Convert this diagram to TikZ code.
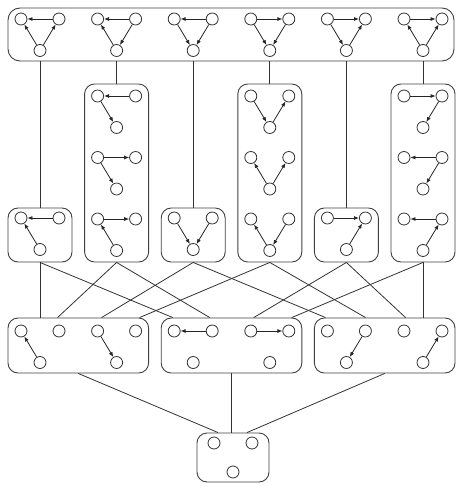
\documentclass[tikz,border=0pt]{standalone}
\usetikzlibrary{arrows.meta}
\begin{document}
\begin{tikzpicture}[x=1pt,y=-1pt]
\tikzset{
  vtx/.style={circle, draw=black!80, fill=white, minimum size=12pt, inner sep=0pt, line width=0.8pt},
  arc/.style={draw=black!85, line width=0.8pt, -{Latex[length=5pt,width=4pt]}},
  grp/.style={draw=black!75, rounded corners=10pt, line width=0.9pt, inner sep=0pt},
  link/.style={draw=black!80, line width=0.8pt},
}
% three vertices: left, right (top row) and bottom
\newcommand{\trio}[3]{%
  \node[vtx] (#1l) at (#2-19,#3) {};
  \node[vtx] (#1r) at (#2+19,#3) {};
  \node[vtx] (#1b) at (#2,#3+31.5) {};}
\useasboundingbox (0,0) rectangle (456,484);

% group boxes
\node[grp, rounded corners=12pt, minimum width=446pt, minimum height=53pt] (T) at (231,34.5) {};
\node[grp, minimum width=64pt, minimum height=54pt] (S1) at (40,235) {};
\node[grp, minimum width=64pt, minimum height=54pt] (S3) at (193.2,235) {};
\node[grp, minimum width=64pt, minimum height=54pt] (S5) at (346.4,235) {};
\node[grp, minimum width=64pt, minimum height=178pt] (L2) at (116.6,173) {};
\node[grp, minimum width=64pt, minimum height=178pt] (L4) at (269.8,173) {};
\node[grp, minimum width=64pt, minimum height=178pt] (L6) at (423,173) {};
\node[grp, minimum width=140.6pt, minimum height=55pt] (A) at (78.3,345.5) {};
\node[grp, minimum width=140.6pt, minimum height=55pt] (B) at (231.5,345.5) {};
\node[grp, minimum width=140.6pt, minimum height=55pt] (C) at (384.7,345.5) {};
\node[grp, minimum width=72pt, minimum height=49pt] (D) at (233,457.5) {};

% links between groups
\foreach \g in {S1,L2,S3,L4,S5,L6}
  \draw[link] (T.south -| \g.north) -- (\g.north);
\draw[link] (S1.south) -- (S1.south |- A.north);
\draw[link] (S1.south) -- ([xshift=12pt]B.north west);
\draw[link] (L2.south) -- ([xshift=50pt]A.north west);
\draw[link] (L2.south) -- ([xshift=49pt]B.north west);
\draw[link] (S3.south) -- ([xshift=94pt]A.north west);
\draw[link] (S3.south) -- ([xshift=11.6pt]C.north west);
\draw[link] (L4.south) -- ([xshift=132pt]A.north west);
\draw[link] (L4.south) -- ([xshift=51.6pt]C.north west);
\draw[link] (S5.south) -- ([xshift=93pt]B.north west);
\draw[link] (S5.south) -- ([xshift=91.6pt]C.north west);
\draw[link] (L6.south) -- ([xshift=131pt]B.north west);
\draw[link] (L6.south) -- (L6.south |- C.north);
\draw[link] (A.south) -- ([xshift=-15pt]D.north);
\draw[link] (B.south) -- (B.south |- D.north);
\draw[link] (C.south) -- ([xshift=14pt]D.north);

% top row: full triangles
\trio{ta}{40}{19}
\trio{tb}{116.6}{19}
\trio{tc}{193.2}{19}
\trio{td}{269.8}{19}
\trio{te}{346.4}{19}
\trio{tf}{423}{19}
\draw[arc] (tar) -- (tal); \draw[arc] (tab) -- (tal); \draw[arc] (tab) -- (tar);
\draw[arc] (tbr) -- (tbl); \draw[arc] (tbb) -- (tbl); \draw[arc] (tbr) -- (tbb);
\draw[arc] (tcr) -- (tcl); \draw[arc] (tcl) -- (tcb); \draw[arc] (tcr) -- (tcb);
\draw[arc] (tdl) -- (tdr); \draw[arc] (tdl) -- (tdb); \draw[arc] (tdr) -- (tdb);
\draw[arc] (tel) -- (ter); \draw[arc] (tel) -- (teb); \draw[arc] (teb) -- (ter);
\draw[arc] (tfl) -- (tfr); \draw[arc] (tfb) -- (tfl); \draw[arc] (tfb) -- (tfr);

% single boxes
\trio{sa}{40}{218}
\trio{sc}{193.2}{218}
\trio{se}{346.4}{218}
\draw[arc] (sar) -- (sal); \draw[arc] (sab) -- (sal);
\draw[arc] (scl) -- (scb); \draw[arc] (scr) -- (scb);
\draw[arc] (sel) -- (ser); \draw[arc] (seb) -- (ser);

% tall boxes
\trio{ua}{116.6}{96}
\trio{ub}{116.6}{157.5}
\trio{uc}{116.6}{219}
\draw[arc] (uar) -- (ual); \draw[arc] (ual) -- (uab);
\draw[arc] (ubl) -- (ubr); \draw[arc] (ubl) -- (ubb);
\draw[arc] (ucl) -- (ucr); \draw[arc] (ucb) -- (ucl);
\trio{va}{269.8}{96}
\trio{vb}{269.8}{157.5}
\trio{vc}{269.8}{219}
\draw[arc] (val) -- (vab); \draw[arc] (vab) -- (var);
\draw[arc] (vbb) -- (vbl); \draw[arc] (vbb) -- (vbr);
\draw[arc] (vcb) -- (vcl); \draw[arc] (vcr) -- (vcb);
\trio{wa}{423}{96}
\trio{wb}{423}{157.5}
\trio{wc}{423}{219}
\draw[arc] (wal) -- (war); \draw[arc] (war) -- (wab);
\draw[arc] (wbr) -- (wbl); \draw[arc] (wbr) -- (wbb);
\draw[arc] (wcr) -- (wcl); \draw[arc] (wcb) -- (wcr);

% fourth row
\trio{pa}{40}{331}
\trio{pb}{116.6}{331}
\trio{pc}{193.2}{331}
\trio{pd}{269.8}{331}
\trio{pe}{346.4}{331}
\trio{pf}{423}{331}
\draw[arc] (pab) -- (pal);
\draw[arc] (pbl) -- (pbb);
\draw[arc] (pcr) -- (pcl);
\draw[arc] (pdl) -- (pdr);
\draw[arc] (per) -- (peb);
\draw[arc] (pfb) -- (pfr);

% bottom box: no arcs
\node[vtx] (dl) at (214,443) {};
\node[vtx] (dr) at (252,443) {};
\node[vtx] (db) at (233,472) {};
\end{tikzpicture}
\end{document}
